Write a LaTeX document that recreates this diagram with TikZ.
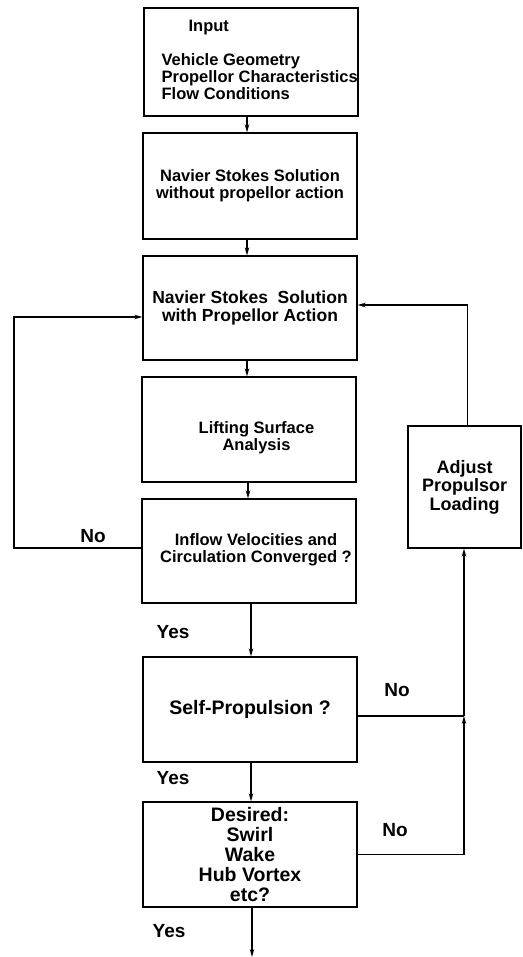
\documentclass[tikz,border=0pt]{standalone}
\usepackage{fontspec}
\setmainfont{Liberation Sans}
\usetikzlibrary{arrows.meta}
\begin{document}
\begin{tikzpicture}[x=1pt,y=-1pt,line width=1.2pt,
  box/.style={draw,line width=1.3pt,inner sep=0pt,minimum width=214pt,align=center,font=\bfseries\fontsize{16.5}{17}\selectfont},
  txt/.style={inner sep=0pt,align=center,font=\bfseries\fontsize{16.5}{17}\selectfont},
  arr/.style={-{Stealth[length=8pt,width=4.5pt]}},
  lbl/.style={inner sep=0pt,font=\bfseries\fontsize{19}{22}\selectfont}]
\useasboundingbox (0,0) rectangle (522,957);
% boxes
\node[box,minimum height=108pt] (b1) at (251,62) {};
\node[txt,anchor=north west,align=left] (t1) at (161,19.5) {\hspace*{27pt}Input\\[17pt]Vehicle Geometry\\Propellor Characteristics\\Flow Conditions};
\node[box,minimum height=106pt] (b2) at (250,186) {Navier Stokes Solution\\without propellor action};
\node[box,minimum height=104pt,font=\bfseries\fontsize{17.5}{18}\selectfont] (b3) at (250,308) {Navier Stokes\ \ Solution\\with Propellor Action};
\node[box,minimum height=105pt] (b4) at (249,429.5) {};
\node[txt] (t4) at (256.5,438) {Lifting Surface\\Analysis};
\node[box,minimum height=104pt] (b5) at (249,551) {};
\node[txt] (t5) at (256,550) {Inflow Velocities and\\Circulation Converged ?};
\node[box,minimum height=105pt,font=\bfseries\fontsize{19.5}{20}\selectfont] (b6) at (250,709.5) {Self-Propulsion ?};
\node[box,minimum height=105pt,font=\bfseries\fontsize{19.5}{20}\selectfont] (b7) at (250,854.5) {Desired:\\Swirl\\Wake\\Hub Vortex\\etc?};
\node[box,minimum width=113pt,minimum height=122pt,font=\bfseries\fontsize{18}{18.5}\selectfont] (adj) at (464.5,487) {Adjust\\Propulsor\\Loading};
% labels
\node[lbl] (no1) at (93,536) {No};
\node[lbl] (yes1) at (173,632) {Yes};
\node[lbl] (no2) at (397,690) {No};
\node[lbl] (yes2) at (173,778) {Yes};
\node[lbl] (no3) at (395,830) {No};
\node[lbl] (yes3) at (169,931) {Yes};
% coordinates
\coordinate (lx) at (14,548);
\coordinate (j1) at (464,716);
\coordinate (j2) at (464,854.5);
\coordinate (out) at (252,957);
% main flow
\draw[arr] ([xshift=-4pt]b1.south) -- ([xshift=-4pt]b1.south |- b2.north);
\draw[arr] ([xshift=-3pt]b2.south) -- ([xshift=-3pt]b2.south |- b3.north);
\draw[arr] ([xshift=-3pt]b3.south) -- ([xshift=-3pt]b3.south |- b4.north);
\draw[arr] ([xshift=-1pt]b4.south) -- ([xshift=-1pt]b4.south |- b5.north);
\draw[arr] ([xshift=2pt]b5.south) -- ([xshift=2pt]b5.south |- b6.north);
\draw[arr] ([xshift=1pt]b6.south) -- ([xshift=1pt]b6.south |- b7.north);
\draw[arr] ([xshift=2pt]b7.south) -- (out);
% loops
\draw[arr] ([yshift=3pt]b5.west) -| (lx) |- ([yshift=-9pt]b3.west);
\draw[arr] ([xshift=3pt]adj.north) |- ([yshift=3pt]b3.east);
\draw ([yshift=-6.5pt]b6.east) -- (j1);
\draw (b7.east) -- (j2);
\draw[arr] (j2) -- (j1);
\draw[arr] (j1) -- (j1 |- adj.south);
\end{tikzpicture}
\end{document}
